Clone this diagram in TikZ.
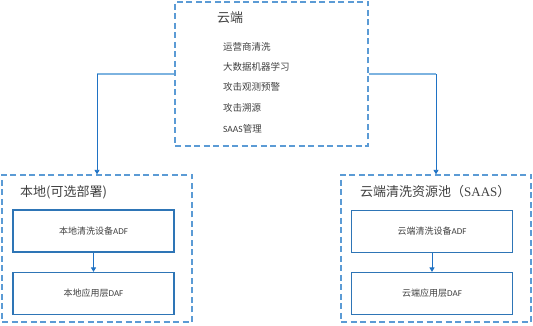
\documentclass[tikz,border=0pt]{standalone}
\usepackage{fontspec}
\setmainfont{Carlito}
\newfontfamily\cjk{Noto Sans CJK SC}
\newfontfamily\serifl{Liberation Serif}
\usetikzlibrary{arrows.meta}
\definecolor{dashblue}{HTML}{5B9BD5}
\definecolor{boxblue}{HTML}{2E75B6}
\definecolor{arrblue}{HTML}{1F72C4}
\definecolor{linkblue}{HTML}{7DB3E0}
\definecolor{txt}{HTML}{404040}
\tikzset{
  outerbox/.style={draw=dashblue, line width=1.3pt, dash pattern=on 6pt off 3.5pt, minimum width=#1, inner sep=0pt},
  innerbox/.style={draw=boxblue, line width=1.1pt, minimum width=161pt, minimum height=42pt, inner sep=0pt, font=\fontsize{9}{11}\selectfont, text=txt},
  titletext/.style={anchor=west, inner sep=0pt, text=txt, font=\fontsize{13}{15}\selectfont\cjk},
  itemtext/.style={anchor=west, inner sep=0pt, text=txt, font=\fontsize{9.5}{11}\selectfont\cjk},
  arr/.style={draw=arrblue, line width=0.9pt, -{Triangle[length=4.5pt,width=5pt]}},
  link/.style={draw=linkblue, line width=1.5pt}
}
\begin{document}
\begin{tikzpicture}[x=1pt,y=1pt]
\useasboundingbox (0,0) rectangle (533,326);
% outer boxes
\node[outerbox=193pt, minimum height=144pt] (top) at (271.5,252) {};
\node[outerbox=190pt, minimum height=147pt] (left) at (97,77.5) {};
\node[outerbox=190pt, minimum height=147pt] (right) at (436,77.5) {};
% titles
\node[titletext] (ttop) at (217,308.5) {云端};
\node[titletext] (tleft) at (20,134) {本地(可选部署)};
\node[titletext] (tright) at (360,134) {云端清洗资源池（{\serifl SAAS}）};
% items
\node[itemtext] (i1) at (223,279) {运营商清洗};
\node[itemtext] (i2) at (223,259) {大数据机器学习};
\node[itemtext] (i3) at (223,239) {攻击观测预警};
\node[itemtext] (i4) at (223,218) {攻击溯源};
\node[itemtext] (i5) at (223,197) {{\rmfamily SAAS}管理};
% inner boxes
\node[innerbox] (l1) at (93.5,95) {{\cjk 本地清洗设备}ADF};
\node[innerbox] (l2) at (93.5,32.5) {{\cjk 本地应用层}DAF};
\node[innerbox] (r1) at (432,94.5) {{\cjk 云端清洗设备}ADF};
\node[innerbox] (r2) at (432,32.5) {{\cjk 云端应用层}DAF};
% connectors
\coordinate (cl) at (left.north |- top.west);
\coordinate (cr) at (right.north |- top.east);
\draw[link] (top.west) -- (cl);
\draw[link] (top.east) -- (cr);
\draw[arr] (cl) -- (left.north);
\draw[arr] (cr) -- (right.north);
\draw[arr] (l1.south) -- (l2.north);
\draw[arr] (r1.south) -- (r2.north);
\end{tikzpicture}
\end{document}
